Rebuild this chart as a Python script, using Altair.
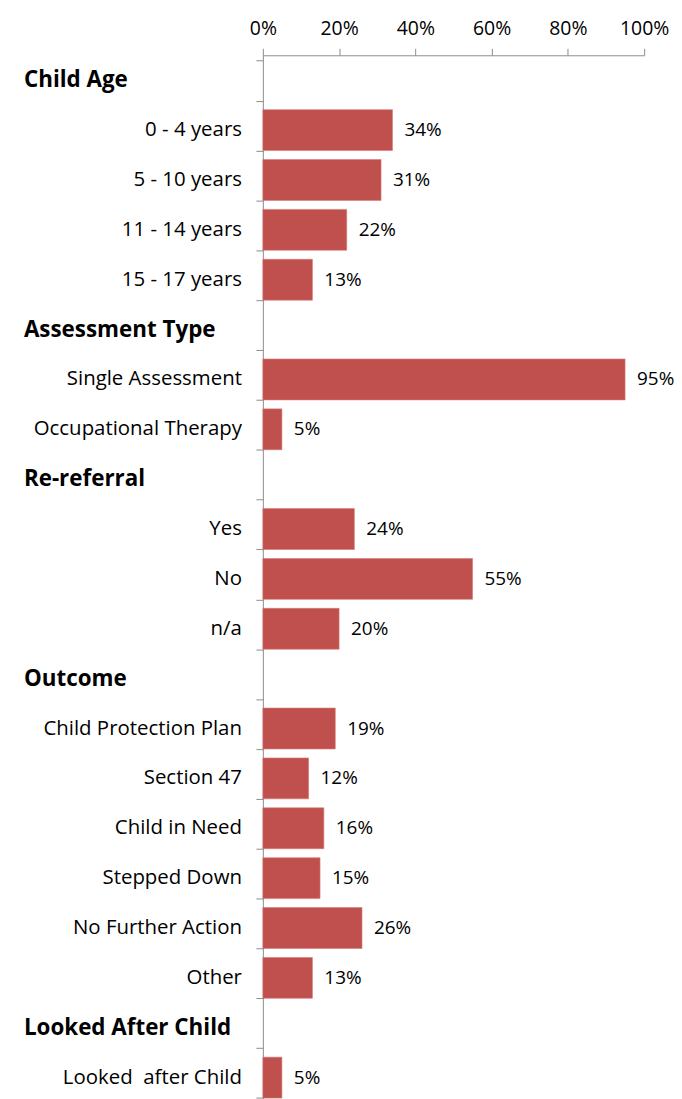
import altair as alt
import pandas as pd

# rows in display order; None marks a section header row
labels = [
    "Child Age", "0 - 4 years", "5 - 10 years", "11 - 14 years", "15 - 17 years",
    "Assessment Type", "Single Assessment", "Occupational Therapy",
    "Re-referral", "Yes", "No", "n/a",
    "Outcome", "Child Protection Plan", "Section 47", "Child in Need",
    "Stepped Down", "No Further Action", "Other",
    "Looked After Child", "Looked\u00a0 after Child",
]
values = [
    None, 34, 31, 22, 13,
    None, 95, 5,
    None, 24, 55, 20,
    None, 19, 12, 16, 15, 26, 13,
    None, 5,
]
x_ticks = [0, 20, 40, 60, 80, 100]

df = pd.DataFrame({
    "label": labels,
    "value": values,
    "header": [v is None for v in values],
})
df["vlabel"] = df["value"].map(lambda v: "" if pd.isna(v) else f"{int(v)}%")

FONT = "Open Sans"
AX = "#8c8c8c"

y = alt.Y("label:N", sort=labels, title=None,
          scale=alt.Scale(paddingInner=0.18, paddingOuter=0.09),
          axis=alt.Axis(orient="left", labels=False, ticks=True, tickBand="extent",
                        tickSize=7, tickColor=AX, domainColor=AX, grid=False))

base = alt.Chart(df)

bars = base.transform_filter("datum.header == false").mark_bar(
    color="#C0504D", stroke="#D77A77", strokeWidth=0.6
).encode(
    x=alt.X("value:Q", scale=alt.Scale(domain=[0, 100], nice=False), title=None,
            axis=alt.Axis(orient="top", values=x_ticks, labelExpr="datum.value + '%'",
                          tickSize=7, tickColor=AX, domainColor=AX, grid=False,
                          labelFont=FONT, labelFontSize=19.5, labelColor="#000000",
                          labelPadding=10, labelFlush=False)),
    y=y,
)

vals = base.transform_filter("datum.header == false").mark_text(
    align="left", baseline="middle", dx=12, font=FONT, fontSize=19, color="#000000"
).encode(x="value:Q", y=y, text="vlabel:N")

cats = base.transform_filter("datum.header == false").mark_text(
    align="right", baseline="middle", font=FONT, fontSize=20.5, color="#000000"
).encode(x=alt.value(-21), y=y, text="label:N")

heads = base.transform_filter("datum.header == true").mark_text(
    align="left", baseline="middle", font=FONT, fontSize=22.5, fontWeight="bold",
    color="#000000"
).encode(x=alt.value(-240), y=y, text="label:N")

chart = alt.layer(bars, vals, cats, heads).properties(
    width=383, height=1052,
    autosize=alt.AutoSizeParams(type="none"),
    padding={"left": 256, "top": 45, "right": 30, "bottom": 10},
).configure_view(stroke=None).configure_axis(domainWidth=1, tickWidth=1)

chart.save("out.html", embed_options={"renderer": "svg", "actions": False})
